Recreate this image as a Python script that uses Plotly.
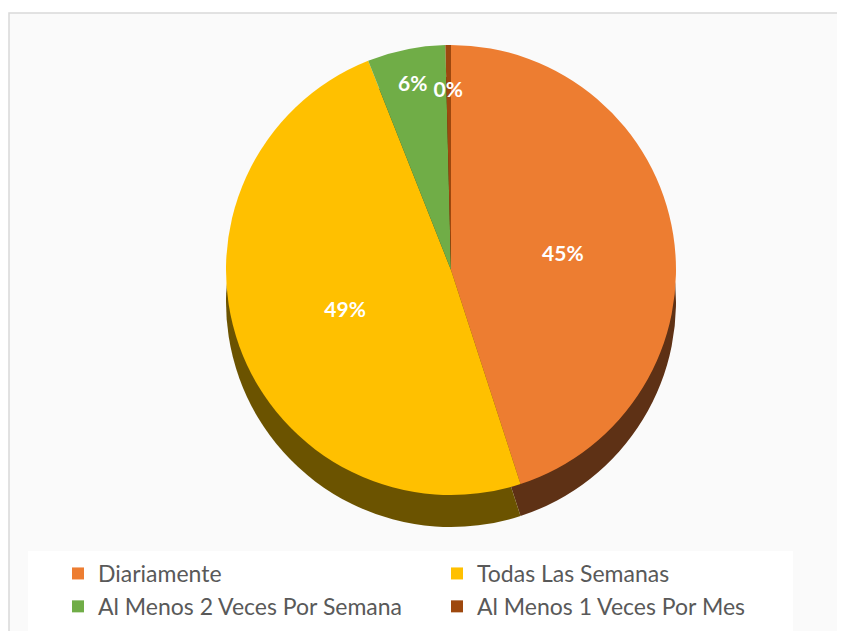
import plotly.graph_objects as go

labels = ["Diariamente", "Todas Las Semanas", "Al Menos 2 Veces Por Semana", "Al Menos 1 Veces Por Mes"]
values = [45.0, 49.0, 5.6, 0.4]
colors = ["#ED7D31", "#FFC000", "#70AD47", "#9E480E"]
side_colors = ["#5E3115", "#6B5300", "#2F4A1E", "#4A2206"]

# the page has an 8px body margin, so the figure is a bit smaller than the window
OFF = 8
W, H = 845 - OFF, 631 - OFF
cx, cy, d, depth = 451, 270, 450, 32


def fx(px):
    return (px - OFF) / W


def fy(py):
    return 1 - (py - OFF) / H


def dom(top):
    return dict(x=[fx(cx - d / 2), fx(cx + d / 2)], y=[fy(top + d), fy(top)])


fig = go.Figure()

# darker copy behind, shifted down, to fake the pie's thickness
fig.add_trace(go.Pie(
    labels=labels, values=values, sort=False, direction="clockwise", rotation=0,
    marker=dict(colors=side_colors, line=dict(width=0)),
    textinfo="none", hoverinfo="skip", showlegend=False,
    domain=dom(cy - d / 2 + depth),
))

fig.add_trace(go.Pie(
    labels=labels, values=values, sort=False, direction="clockwise", rotation=0,
    marker=dict(colors=colors, line=dict(width=0)),
    texttemplate=["%{percent:.0%}", "%{percent:.0%}", "%{percent:.0%}",
                  "\u00a0<br>\u00a0<br>\u00a0<br>%{percent:.0%}"],
    textposition="inside",
    insidetextorientation="horizontal",
    textfont=dict(color="white", size=21, family="Lato, sans-serif", weight="bold"),
    domain=dom(cy - d / 2),
))

fig.update_layout(
    width=W, height=H,
    margin=dict(l=0, r=0, t=0, b=0, autoexpand=False),
    paper_bgcolor="white",
    uniformtext=dict(minsize=21, mode="show"),
    font=dict(family="Lato, sans-serif", color="#595959"),
    legend=dict(
        orientation="h", x=fx(58), y=fy(628), xanchor="left", yanchor="bottom",
        entrywidth=334, itemwidth=30, bgcolor="rgba(0,0,0,0)",
        font=dict(size=23, color="#595959"), traceorder="normal",
    ),
    shapes=[
        dict(type="rect", xref="paper", yref="paper", x0=fx(9), x1=fx(840),
             y0=-0.02, y1=fy(13), fillcolor="#FAFAFA",
             line=dict(color="#D9D9D9", width=1.5), layer="below"),
        dict(type="rect", xref="paper", yref="paper", x0=fx(28), x1=fx(793),
             y0=-0.02, y1=fy(551), fillcolor="#FFFFFF",
             line=dict(width=0), layer="below"),
    ],
)

fig.write_html("out.html")
